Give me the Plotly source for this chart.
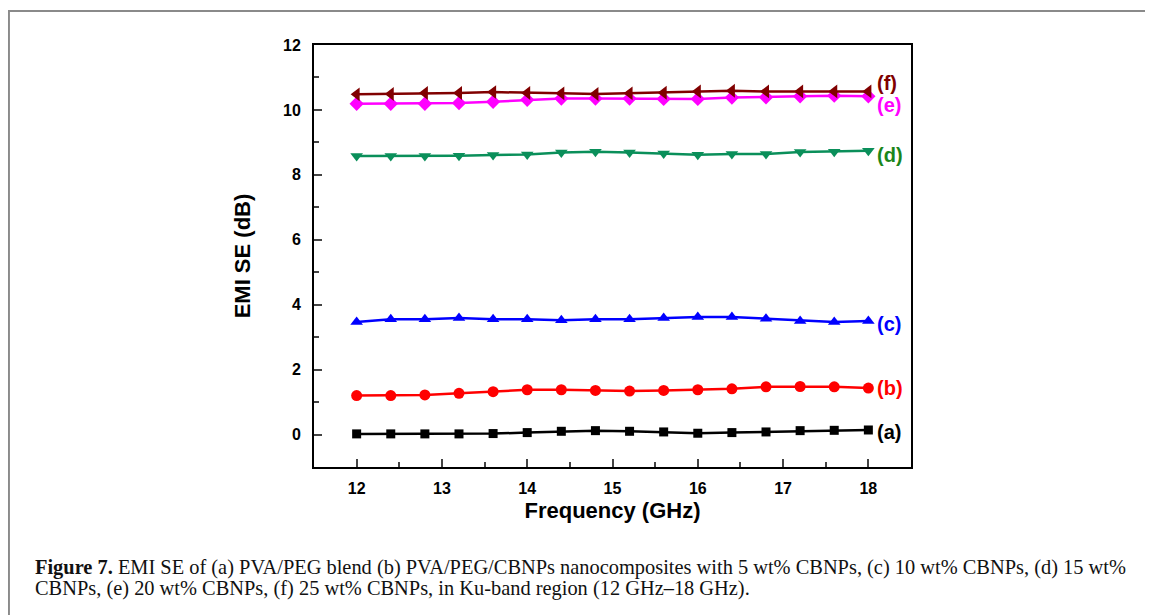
import plotly.graph_objects as go

freq = [12.0, 12.4, 12.8, 13.2, 13.6, 14.0, 14.4, 14.8, 15.2, 15.6, 16.0, 16.4, 16.8, 17.2, 17.6, 18.0]

se_a = [0.02, 0.02, 0.02, 0.02, 0.03, 0.06, 0.10, 0.12, 0.10, 0.08, 0.04, 0.06, 0.08, 0.12, 0.13, 0.14]
se_b = [1.20, 1.20, 1.22, 1.27, 1.32, 1.38, 1.38, 1.36, 1.34, 1.36, 1.38, 1.41, 1.47, 1.48, 1.47, 1.43]
se_c = [3.47, 3.55, 3.55, 3.59, 3.55, 3.55, 3.52, 3.55, 3.55, 3.59, 3.62, 3.62, 3.57, 3.50, 3.47, 3.50]
se_d = [8.58, 8.58, 8.58, 8.59, 8.61, 8.63, 8.69, 8.71, 8.69, 8.66, 8.62, 8.64, 8.64, 8.70, 8.71, 8.74]
se_e = [10.19, 10.19, 10.19, 10.21, 10.25, 10.31, 10.35, 10.35, 10.35, 10.34, 10.34, 10.38, 10.39, 10.42, 10.44, 10.42]
se_f = [10.48, 10.49, 10.52, 10.52, 10.55, 10.52, 10.51, 10.49, 10.51, 10.53, 10.57, 10.59, 10.57, 10.57, 10.57, 10.57]

labels = ["(a)", "(b)", "(c)", "(d)", "(e)", "(f)"]

caption_1 = ("<b>Figure 7.</b> EMI SE of (a) PVA/PEG blend (b) PVA/PEG/CBNPs nanocomposites with 5 wt% CBNPs, "
             "(c) 10 wt% CBNPs, (d) 15 wt%")
caption_2 = "CBNPs, (e) 20 wt% CBNPs, (f) 25 wt% CBNPs, in Ku-band region (12 GHz\u201318 GHz)."

# (values, line colour, label colour, marker symbol, marker size, label y shift)
series = [
    (se_a, "#000000", "#000000", "square", 9, -2),
    (se_b, "#ff0000", "#ff0000", "circle", 11, 0),
    (se_c, "#0000ff", "#0000ff", "triangle-up", 11, -3),
    (se_d, "#0a8f5a", "#1a861a", "triangle-down", 11, -4),
    (se_e, "#ff00ff", "#ff00ff", "diamond", 11, -9),
    (se_f, "#800000", "#800000", "triangle-left", 12, 8),
]

fig = go.Figure()
for (vals, col, lcol, sym, msize, ys), lab in zip(series, labels):
    fig.add_trace(go.Scatter(x=freq, y=vals, mode="lines+markers",
                             line=dict(color=col, width=2.5),
                             marker=dict(symbol=sym, size=msize, color=col),
                             showlegend=False))
    fig.add_annotation(x=freq[-1], y=vals[-1], text="<b>" + lab + "</b>", showarrow=False,
                       xanchor="left", yanchor="middle", xshift=7, yshift=ys,
                       font=dict(family="Liberation Sans, Arial", size=20, color=lcol))

cap_font = dict(family="Liberation Serif, Times New Roman", size=20.4, color="#111111")
fig.add_annotation(x=-0.4707, y=-0.237, xref="paper", yref="paper", text=caption_1, showarrow=False,
                   xanchor="left", yanchor="middle", align="left", font=cap_font)
fig.add_annotation(x=-0.4707, y=-0.289, xref="paper", yref="paper", text=caption_2, showarrow=False,
                   xanchor="left", yanchor="middle", align="left", font=cap_font)

# outer figure frame
fig.add_shape(type="rect", xref="paper", yref="paper", x0=-0.511, x1=1.45, y0=-0.40, y1=1.0806,
              line=dict(color="#8a8a8a", width=2))

axis_font = dict(family="Liberation Sans, Arial", size=16, color="black")
fig.update_xaxes(range=[11.5, 18.5], dtick=1, tick0=12, ticks="inside", ticklen=8, tickwidth=2,
                 minor=dict(ticks="inside", ticklen=5, tickwidth=2, dtick=0.5, tick0=12),
                 showline=True, linewidth=2, linecolor="black", mirror=True, showgrid=False,
                 zeroline=False, tickfont=axis_font, tickprefix="<b>", ticksuffix="</b>",
                 ticklabelstandoff=6,
                 title=dict(text="<b>Frequency (GHz)</b>", standoff=6,
                            font=dict(family="Liberation Sans, Arial", size=22, color="black")))
fig.update_yaxes(range=[-1, 12], dtick=2, tick0=0, ticks="inside", ticklen=8, tickwidth=2,
                 minor=dict(ticks="inside", ticklen=5, tickwidth=2, dtick=1, tick0=0),
                 showline=True, linewidth=2, linecolor="black", mirror=True, showgrid=False,
                 zeroline=False, tickfont=axis_font, tickprefix="<b>", ticksuffix="</b>",
                 ticklabelstandoff=8,
                 title=dict(text="<b>EMI SE (dB)</b>", standoff=26,
                            font=dict(family="Liberation Sans, Arial", size=22, color="black")))

# page body adds an 8px offset, so the figure is 8px smaller than the window
fig.update_layout(width=1145, height=607, margin=dict(l=306, r=242, t=37, b=148),
                  plot_bgcolor="white", paper_bgcolor="white")

fig.write_html("out.html")
